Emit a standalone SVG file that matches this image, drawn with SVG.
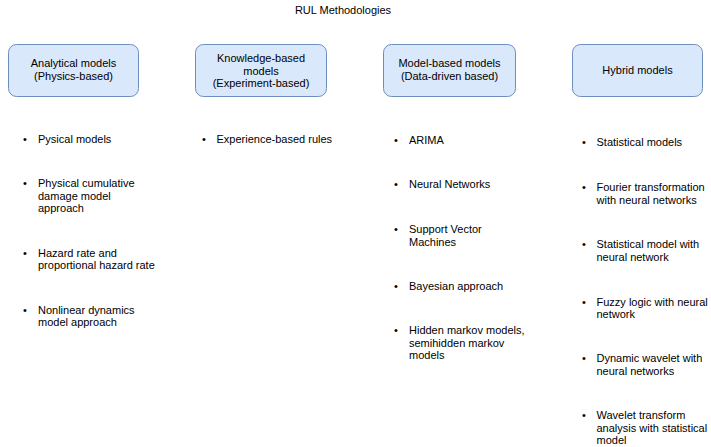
<svg xmlns="http://www.w3.org/2000/svg" width="711" height="447" viewBox="0 0 711 447">
<style>
text{font-family:"Liberation Sans",Arial,Helvetica,sans-serif;font-size:11px;fill:#000}
.box{fill:#dae8fc;stroke:#6c8ebf;stroke-width:1}
.c{text-anchor:middle}
.b{font-size:11px}
</style>
<rect width="711" height="447" fill="#fff"/>
<text class="c" x="343" y="14">RUL Methodologies</text>
<g id="analytical">
<rect class="box" x="8.5" y="44.5" width="130" height="52" rx="8"/>
<text class="c" x="73.5" y="67">Analytical models</text>
<text class="c" x="73.5" y="80">(Physics-based)</text>
</g>
<g id="knowledge">
<rect class="box" x="195.5" y="44.5" width="131" height="52" rx="8"/>
<text class="c" x="261" y="62">Knowledge-based</text>
<text class="c" x="261" y="74.5">models</text>
<text class="c" x="261" y="87">(Experiment-based)</text>
</g>
<g id="modelbased">
<rect class="box" x="383.5" y="44.5" width="132" height="52" rx="8"/>
<text class="c" x="449.5" y="67">Model-based models</text>
<text class="c" x="449.5" y="80">(Data-driven based)</text>
</g>
<g id="hybrid">
<rect class="box" x="572.5" y="44.5" width="130" height="52" rx="8"/>
<text class="c" x="637.5" y="74">Hybrid models</text>
</g>
<g id="analytical-list">
<text x="23" y="143">•</text><text x="38" y="143">Pysical models</text>
<text x="23" y="187">•</text><text x="38" y="187">Physical cumulative</text>
<text x="38" y="199.5">damage model</text>
<text x="38" y="212">approach</text>
<text x="23" y="256.5">•</text><text x="38" y="256.5">Hazard rate and</text>
<text x="38" y="269">proportional hazard rate</text>
<text x="23" y="313.5">•</text><text x="38" y="313.5">Nonlinear dynamics</text>
<text x="38" y="326">model approach</text>
</g>
<g id="knowledge-list">
<text x="202" y="143">•</text><text x="216.5" y="143">Experience-based rules</text>
</g>
<g id="modelbased-list">
<text x="394" y="144">•</text><text x="409" y="144">ARIMA</text>
<text x="394" y="188">•</text><text x="409" y="188">Neural Networks</text>
<text x="394" y="233">•</text><text x="409" y="233">Support Vector</text>
<text x="409" y="245.5">Machines</text>
<text x="394" y="290">•</text><text x="409" y="290">Bayesian approach</text>
<text x="394" y="334">•</text><text x="409" y="334">Hidden markov models,</text>
<text x="409" y="346.5">semihidden markov</text>
<text x="409" y="359">models</text>
</g>
<g id="hybrid-list">
<text x="582" y="146">•</text><text x="596.5" y="146">Statistical models</text>
<text x="582" y="191">•</text><text x="596.5" y="191">Fourier transformation</text>
<text x="596.5" y="203.5">with neural networks</text>
<text x="582" y="248">•</text><text x="596.5" y="248">Statistical model with</text>
<text x="596.5" y="260.5">neural network</text>
<text x="582" y="305.5">•</text><text x="596.5" y="305.5">Fuzzy logic with neural</text>
<text x="596.5" y="318">network</text>
<text x="582" y="362">•</text><text x="596.5" y="362">Dynamic wavelet with</text>
<text x="596.5" y="374.5">neural networks</text>
<text x="582" y="419">•</text><text x="596.5" y="419">Wavelet transform</text>
<text x="596.5" y="431.5">analysis with statistical</text>
<text x="596.5" y="444">model</text>
</g>
<g id="connectors"></g>
</svg>
